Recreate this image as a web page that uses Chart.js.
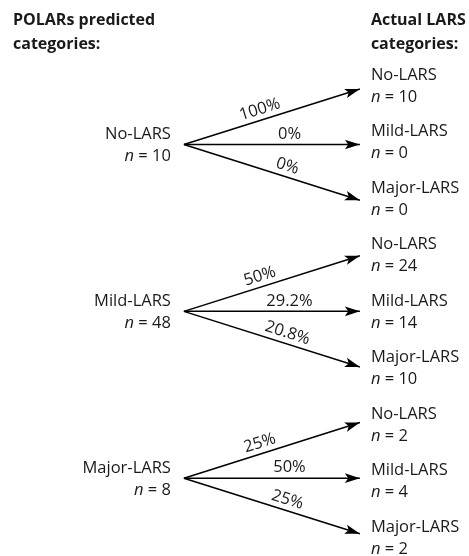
<!DOCTYPE html>
<html>
<head>
<meta charset="utf-8">
<script src="https://cdn.jsdelivr.net/npm/chart.js@4"></script>
<style>
  html, body { margin: 0; padding: 0; background: #fff; }
  #wrap { width: 469px; height: 556px; position: relative; }
</style>
</head>
<body>
<div id="wrap"><canvas id="c" width="469" height="556"></canvas></div>
<script>
// ---- data ----
const titleLeft = ['POLARs predicted', 'categories:'];
const titleRight = ['Actual LARS', 'categories:'];
const predicted = ['No-LARS', 'Mild-LARS', 'Major-LARS'];
const predictedN = [10, 48, 8];
const actual = ['No-LARS', 'Mild-LARS', 'Major-LARS'];
const actualN = [[10, 0, 0], [24, 14, 10], [2, 4, 2]];
const pctLabels = [['100%', '0%', '0%'], ['50%', '29.2%', '20.8%'], ['25%', '50%', '25%']];

// ---- build datasets (x: 0 = predicted, 1 = actual; y: row index) ----
const datasets = [];
predicted.forEach((p, g) => {
  actual.forEach((a, j) => {
    datasets.push({
      label: p + ' -> ' + a,
      group: g, branch: j,
      data: [{ x: 0, y: 3 * g + 1 }, { x: 1, y: 3 * g + j }],
      showLine: true,
      borderColor: '#000',
      borderWidth: 1.5,
      pointRadius: 0,
      pointHoverRadius: 0,
      fill: false,
      tension: 0
    });
  });
});

const FONT = '"Open Sans", "Noto Sans", sans-serif';
const FS = 16.5;

function drawN(ctx, n, x, y, align) {
  const it = 'italic ' + FS + 'px ' + FONT;
  const nm = FS + 'px ' + FONT;
  ctx.font = it; const w1 = ctx.measureText('n').width;
  ctx.font = nm; const rest = ' = ' + n; const w2 = ctx.measureText(rest).width;
  let sx = align === 'right' ? x - (w1 + w2) : x;
  ctx.textAlign = 'left';
  ctx.font = it; ctx.fillText('n', sx, y);
  ctx.font = nm; ctx.fillText(rest, sx + w1, y);
}

const diagramPlugin = {
  id: 'diagram',
  afterDatasetsDraw(chart) {
    const ctx = chart.ctx;
    const xs = chart.scales.x, ys = chart.scales.y;
    ctx.save();
    ctx.textBaseline = 'middle';

    // arrowheads + percentage labels
    chart.data.datasets.forEach(ds => {
      const x0 = xs.getPixelForValue(ds.data[0].x), y0 = ys.getPixelForValue(ds.data[0].y);
      const x1 = xs.getPixelForValue(ds.data[1].x), y1 = ys.getPixelForValue(ds.data[1].y);
      const ang = Math.atan2(y1 - y0, x1 - x0);
      const L = 15, W = 4.8;
      const c = Math.cos(ang), s = Math.sin(ang);
      ctx.beginPath();
      ctx.moveTo(x1, y1);
      ctx.lineTo(x1 - L * c - W * s, y1 - L * s + W * c);
      ctx.lineTo(x1 - 0.78 * L * c, y1 - 0.78 * L * s);
      ctx.lineTo(x1 - L * c + W * s, y1 - L * s - W * c);
      ctx.closePath();
      ctx.fillStyle = '#000';
      ctx.fill();

      const t = ds.branch === 0 ? 0.45 : (ds.branch === 1 ? 0.6 : 0.57);
      const off = 10.5;
      const mx = x0 + t * (x1 - x0) + off * s;
      const my = y0 + t * (y1 - y0) - off * c;
      ctx.save();
      ctx.translate(mx, my);
      ctx.rotate(ang);
      ctx.textAlign = 'center';
      ctx.font = FS + 'px ' + FONT;
      ctx.fillStyle = '#1a1a1a';
      ctx.fillText(pctLabels[ds.group][ds.branch], 0, 0);
      ctx.restore();
    });

    ctx.fillStyle = '#1a1a1a';
    const xl = xs.getPixelForValue(0) - 13;
    const xr = xs.getPixelForValue(1) + 11;

    // left labels
    predicted.forEach((p, g) => {
      const yc = ys.getPixelForValue(3 * g + 1);
      ctx.font = FS + 'px ' + FONT;
      ctx.textAlign = 'right';
      ctx.fillText(p, xl, yc - 10);
      drawN(ctx, predictedN[g], xl, yc + 12, 'right');
    });

    // right labels
    predicted.forEach((p, g) => {
      actual.forEach((a, j) => {
        const r = 3 * g + j;
        const yc = ys.getPixelForValue(r) + r * 0.9;
        ctx.font = FS + 'px ' + FONT;
        ctx.textAlign = 'left';
        ctx.fillText(a, xr, yc - 14);
        drawN(ctx, actualN[g][j], xr, yc + 8, 'left');
      });
    });

    // titles
    ctx.font = 'bold 16px ' + FONT;
    ctx.textAlign = 'left';
    titleLeft.forEach((t, i) => ctx.fillText(t, 13, 20 + i * 24));
    titleRight.forEach((t, i) => ctx.fillText(t, xr, 20 + i * 24));
    ctx.restore();
  }
};

new Chart(document.getElementById('c'), {
  type: 'scatter',
  data: { datasets },
  options: {
    responsive: false,
    animation: false,
    events: [],
    layout: { padding: 0 },
    plugins: { legend: { display: false }, tooltip: { enabled: false }, title: { display: false } },
    scales: {
      x: { type: 'linear', display: false, min: -1.045, max: 1.62 },
      y: { type: 'linear', display: false, reverse: true, min: -1.6, max: 8.4 }
    }
  },
  plugins: [diagramPlugin]
});
</script>
</body>
</html>
